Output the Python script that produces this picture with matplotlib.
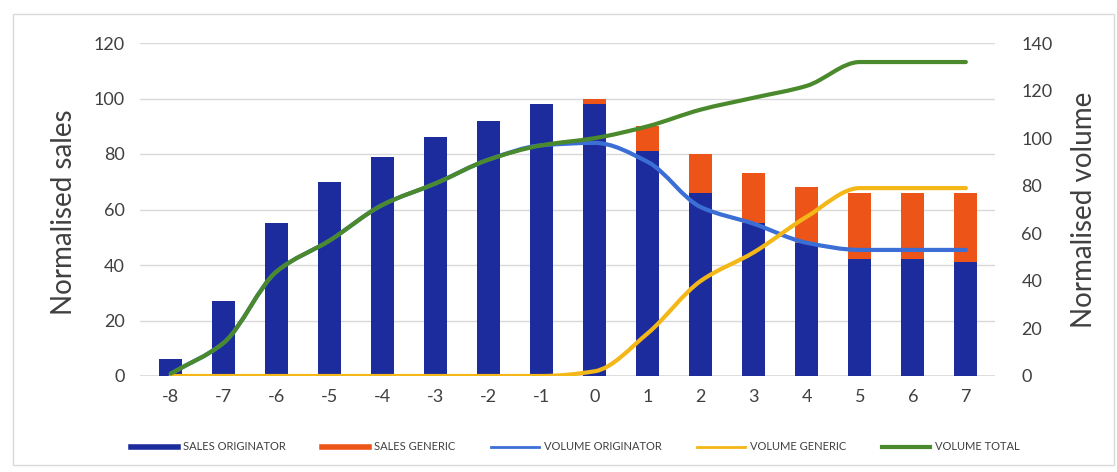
import matplotlib
matplotlib.use("Agg")
import matplotlib.pyplot as plt
from matplotlib.path import Path
from matplotlib.patches import PathPatch, Rectangle
from matplotlib.lines import Line2D
import numpy as np

plt.rcParams['font.family'] = ['Lato', 'DejaVu Sans']
plt.rcParams['axes.unicode_minus'] = False

# Months relative to generic entry
periods = [-8, -7, -6, -5, -4, -3, -2, -1, 0, 1, 2, 3, 4, 5, 6, 7]

# Normalised sales (left axis)
sales_originator = [6, 27, 55, 70, 79, 86, 92, 98, 98, 81, 66, 55, 48, 42, 42, 41]
sales_total = [6, 27, 55, 70, 79, 86, 92, 98, 100, 90, 80, 73, 68, 66, 66, 66]
sales_generic = [t - o for t, o in zip(sales_total, sales_originator)]

# Normalised volume (right axis)
volume_total = [1, 14, 44, 57, 72, 81, 91, 97, 100, 105, 112, 117, 122, 132, 132, 132]
volume_originator = [1, 14, 44, 57, 72, 81, 91, 97, 98, 90, 71, 64, 56, 53, 53, 53]
volume_generic = [0, 0, 0, 0, 0, 0, 0, 0, 2, 18, 40, 52, 67, 79, 79, 79]

labels = ["SALES ORIGINATOR", "SALES GENERIC", "VOLUME ORIGINATOR",
          "VOLUME GENERIC", "VOLUME TOTAL"]

C_SO = "#1c2c9c"
C_SG = "#ec5418"
C_VO = "#3b6fd6"
C_VG = "#f4b718"
C_VT = "#4a8a2c"
C_TXT = "#404040"
C_GRID = "#d9d9d9"


def smooth_path(x, y):
    """Smoothed line through the points (monotone cubic Bezier segments)."""
    x = np.asarray(x, float)
    y = np.asarray(y, float)
    h = np.diff(x)
    d = np.diff(y) / h
    n = len(x)
    m = np.zeros(n)
    m[0], m[-1] = d[0], d[-1]
    for i in range(1, n - 1):
        if d[i - 1] * d[i] > 0:
            w1 = 2 * h[i] + h[i - 1]
            w2 = h[i] + 2 * h[i - 1]
            m[i] = (w1 + w2) / (w1 / d[i - 1] + w2 / d[i])
    verts = [(x[0], y[0])]
    codes = [Path.MOVETO]
    for i in range(n - 1):
        verts += [(x[i] + h[i] / 3, y[i] + m[i] * h[i] / 3),
                  (x[i + 1] - h[i] / 3, y[i + 1] - m[i + 1] * h[i] / 3),
                  (x[i + 1], y[i + 1])]
        codes += [Path.CURVE4] * 3
    return Path(verts, codes)


W, H = 1117, 472
fig = plt.figure(figsize=(W / 100, H / 100), dpi=100)
fig.patches.append(Rectangle((0.012, 0.015), 0.985, 0.955, transform=fig.transFigure,
                             fill=False, edgecolor=C_GRID, linewidth=1.0))

ax = fig.add_axes([140 / W, 1 - 376 / H, 855 / W, 333 / H])
ax2 = ax.twinx()

w = 0.43
ax.bar(periods, sales_originator, width=w, color=C_SO, zorder=2)
ax.bar(periods, sales_generic, width=w, bottom=sales_originator, color=C_SG, zorder=2)

ax.set_ylim(0, 120)
ax.set_yticks(range(0, 121, 20))
ax.set_xlim(-8.58, 7.55)
ax.set_xticks(periods)
ax.grid(axis="y", color=C_GRID, linewidth=1.0, zorder=0)
ax.set_axisbelow(True)

ax2.set_ylim(0, 140)
ax2.set_yticks(range(0, 141, 20))
for series, col in [(volume_originator, C_VO), (volume_generic, C_VG), (volume_total, C_VT)]:
    ax2.add_patch(PathPatch(smooth_path(periods, series), facecolor="none",
                            edgecolor=col, linewidth=3.0, capstyle="round", zorder=3))

for a in (ax, ax2):
    for s in ("top", "left", "right", "bottom"):
        a.spines[s].set_visible(False)
    a.tick_params(length=0, labelsize=13, colors=C_TXT)
ax.axhline(0, color=C_GRID, linewidth=1.2, zorder=1)
ax.tick_params(axis="y", pad=11)
ax.tick_params(axis="x", pad=9)
ax2.tick_params(axis="y", pad=19)

ax.set_ylabel("Normalised sales", fontsize=20, color=C_TXT)
ax2.set_ylabel("Normalised volume", fontsize=20, color=C_TXT)
ax.yaxis.set_label_coords(64 / W, 1 - 212 / H, transform=fig.transFigure)
ax2.yaxis.set_label_coords(1084 / W, 1 - 210 / H, transform=fig.transFigure)
ax.yaxis.label.set_verticalalignment("center")
ax2.yaxis.label.set_verticalalignment("center")

handles = [Line2D([0], [0], color=C_SO, lw=4),
           Line2D([0], [0], color=C_SG, lw=4),
           Line2D([0], [0], color=C_VO, lw=2),
           Line2D([0], [0], color=C_VG, lw=2),
           Line2D([0], [0], color=C_VT, lw=3)]
fig.legend(handles, labels, loc="center", bbox_to_anchor=(575 / W, 1 - 447 / H), ncol=5,
           frameon=False, fontsize=8, handlelength=4.3, columnspacing=3.2,
           handletextpad=0.45, labelcolor=C_TXT)

fig.savefig("out.png", dpi=100)
